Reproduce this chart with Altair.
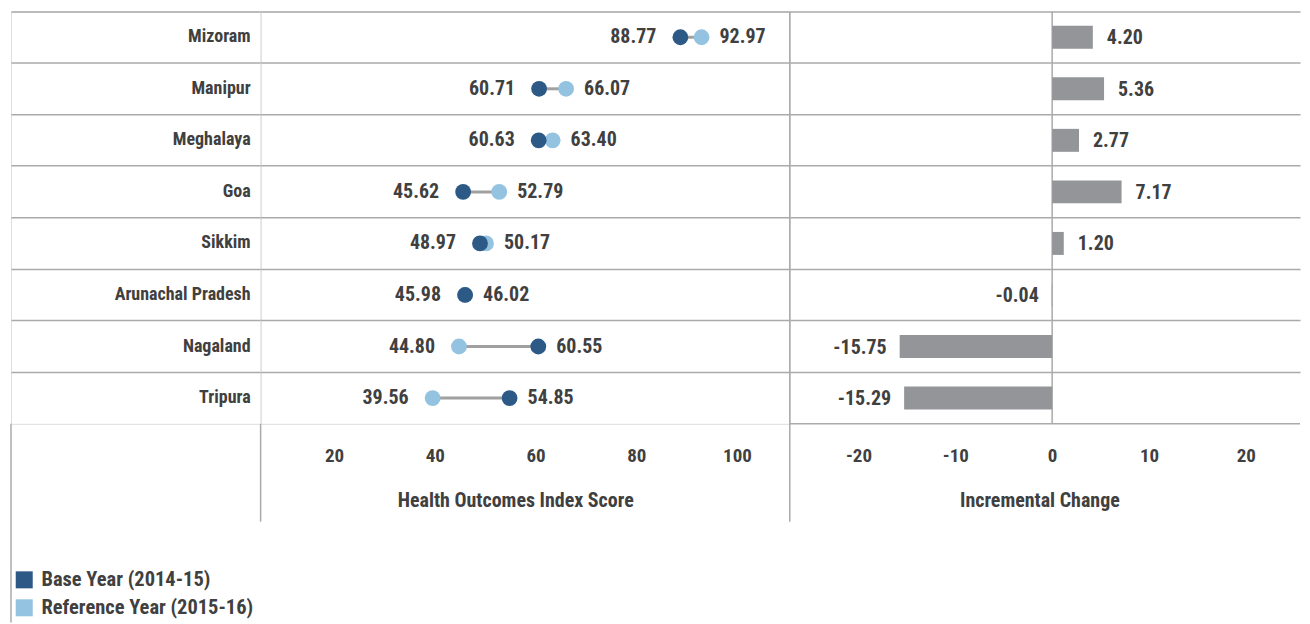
import altair as alt
import pandas as pd

states = ["Mizoram", "Manipur", "Meghalaya", "Goa", "Sikkim",
          "Arunachal Pradesh", "Nagaland", "Tripura"]
base = [88.77, 60.71, 60.63, 45.62, 48.97, 46.02, 60.55, 54.85]
ref = [92.97, 66.07, 63.40, 52.79, 50.17, 45.98, 44.80, 39.56]
change = [4.20, 5.36, 2.77, 7.17, 1.20, -0.04, -15.75, -15.29]
years = ["Base Year (2014-15)", "Reference Year (2015-16)"]
score_ticks = [20, 40, 60, 80, 100]
change_ticks = [-20, -10, 0, 10, 20]

df = pd.DataFrame({"state": states, "base": base, "ref": ref, "change": change})
long = pd.DataFrame({
    "state": states * 2,
    "year": [years[0]] * len(states) + [years[1]] * len(states),
    "score": base + ref,
    "ord": [1] * len(states) + [0] * len(states),
})
one = pd.DataFrame({"k": [0]})

FONT = "Roboto Condensed, Open Sans Condensed, DejaVu Sans Condensed, sans-serif"
TXT = "#404040"
GRID = "#aaaaaa"
DARK = "#2c5985"
LIGHT = "#93c3e0"
BAR = "#939598"
H = 413
MINUS = "replace(datum.label, '\u2212', '-')"

yenc = alt.Y("state:N", sort=states,
             scale=alt.Scale(type="band", paddingInner=0, paddingOuter=0),
             axis=alt.Axis(labels=False, ticks=False, domain=False, title=None,
                           grid=True, bandPosition=0, gridColor=GRID, gridWidth=1.5))


def vrule(y, y2):
    return alt.Chart(one).mark_rule(color=GRID, strokeWidth=1.5).encode(
        x=alt.value(0), y=alt.value(y), y2=alt.value(y2))


def xaxis(title, values, tx):
    return alt.Axis(values=values, domain=False, ticks=False, grid=False,
                    labelFont=FONT, labelFontSize=19, labelFontWeight="bold",
                    labelColor=TXT, labelPadding=23, labelExpr=MINUS, title=title,
                    titleFont=FONT, titleFontSize=20, titleFontWeight="bold",
                    titleColor=TXT, titlePadding=25, titleX=tx)


# label column
lab_text = alt.Chart(df).mark_text(align="right", baseline="middle", font=FONT,
                                   fontSize=18, fontWeight="bold", color=TXT).encode(
    y=yenc, x=alt.value(240), text="state:N")
label_panel = alt.layer(lab_text, vrule(H, 612)).properties(width=250, height=H)

# dumbbell panel
xs = alt.Scale(domain=[5.4, 110.5], nice=False, zero=False)
conn = alt.Chart(df).mark_rule(color="#a0a0a0", strokeWidth=3).encode(
    y=yenc, x=alt.X("base:Q", scale=xs,
                    axis=xaxis("Health Outcomes Index Score", score_ticks, 255)),
    x2="ref:Q")
dots = alt.Chart(long).mark_circle(size=250, opacity=1).encode(
    y=yenc, x=alt.X("score:Q", scale=xs),
    color=alt.Color("year:N", scale=alt.Scale(domain=years, range=[DARK, LIGHT]),
                    legend=alt.Legend(orient="none", legendX=3, legendY=559, title=None,
                                      symbolType="square", symbolSize=290,
                                      symbolStrokeWidth=0, labelFont=FONT,
                                      labelFontSize=20.5, labelFontWeight="bold",
                                      labelColor=TXT, rowPadding=7, padding=0,
                                      labelOffset=7, labelLimit=400)),
    order=alt.Order("ord:Q"))
tcalc = alt.Chart(df).transform_calculate(
    lo="min(datum.base, datum.ref)", hi="max(datum.base, datum.ref)")
lo_text = tcalc.mark_text(align="right", baseline="middle", dx=-24, font=FONT,
                          fontSize=20, fontWeight="bold", color=TXT).encode(
    y=yenc, x=alt.X("lo:Q", scale=xs), text=alt.Text("lo:Q", format=".2f"))
hi_text = tcalc.mark_text(align="left", baseline="middle", dx=18, font=FONT,
                          fontSize=20, fontWeight="bold", color=TXT).encode(
    y=yenc, x=alt.X("hi:Q", scale=xs), text=alt.Text("hi:Q", format=".2f"))
dumbbell = alt.layer(conn, dots, lo_text, hi_text, vrule(H, 511)).properties(width=530, height=H)

# bar panel
xb = alt.Scale(domain=[-27.1, 25.6], nice=False, zero=False)
bars = alt.Chart(df).mark_bar(size=23, color=BAR).encode(
    y=yenc, x=alt.X("change:Q", scale=xb,
                    axis=xaxis("Incremental Change", change_ticks, 250)),
    x2=alt.datum(0))
zero = alt.Chart(one).mark_rule(color=GRID, strokeWidth=1.5).encode(x=alt.datum(0))
bottom = alt.Chart(one).mark_rule(color=GRID, strokeWidth=1.5).encode(y=alt.value(H))
lbl = alt.Chart(df).transform_calculate(
    lbl="replace(format(datum.change, '.2f'), '\u2212', '-')")
pos_text = lbl.transform_filter("datum.change >= 0").mark_text(
    align="left", baseline="middle", dx=14, dy=1, font=FONT, fontSize=20,
    fontWeight="bold", color=TXT).encode(
    y=yenc, x=alt.X("change:Q", scale=xb), text="lbl:N")
neg_text = lbl.transform_filter("datum.change < 0").mark_text(
    align="right", baseline="middle", dx=-13, dy=1, font=FONT, fontSize=20,
    fontWeight="bold", color=TXT).encode(
    y=yenc, x=alt.X("change:Q", scale=xb), text="lbl:N")
barpanel = alt.layer(zero, bars, pos_text, neg_text, bottom, vrule(0, 511)).properties(
    width=511, height=H, view=alt.ViewBackground(stroke="transparent"))

chart = alt.hconcat(label_panel, dumbbell, barpanel, spacing=0, bounds="flush",
                    padding={"left": 1, "top": 1, "right": 0, "bottom": 0}
                    ).configure_view(stroke=GRID, strokeWidth=1.5).configure(background="white")

chart.save("out.html", embed_options={"renderer": "svg", "actions": False})
